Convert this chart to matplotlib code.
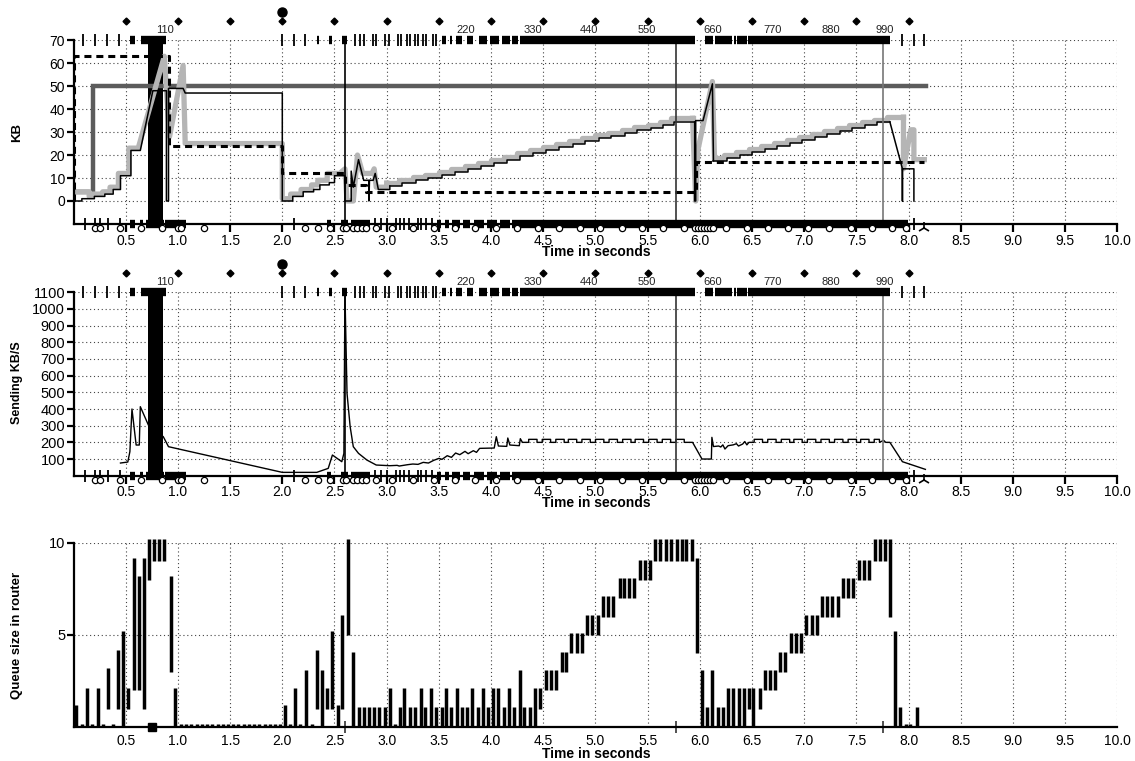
import matplotlib.pyplot as plt
from matplotlib import transforms

plt.rcParams['font.family'] = ['Liberation Sans', 'DejaVu Sans']

# ---------------- data ----------------
time_ticks = [0.5, 1.0, 1.5, 2.0, 2.5, 3.0, 3.5, 4.0, 4.5, 5.0,
              5.5, 6.0, 6.5, 7.0, 7.5, 8.0, 8.5, 9.0, 9.5, 10.0]

# receiver window (dark grey) and ssthresh (dashed), KB
rwin_t = [0.0, 0.19, 0.19, 8.17]
rwin_kb = [4, 4, 50, 50]
ssthresh_t = [0.0, 0.0, 0.91, 0.91, 2.0, 2.0, 2.6, 2.6, 2.8, 2.8, 5.96, 5.96, 8.15]
ssthresh_kb = [0, 63, 63, 24, 24, 12, 12, 7, 7, 4, 4, 17, 17]

# congestion window (light grey), pieces: free path / staircase
cwnd_a = [(0.0, 4), (0.15, 4), (0.15, 2), (0.18, 2), (0.18, 3), (0.28, 3), (0.28, 4),
          (0.35, 4), (0.35, 6), (0.43, 6), (0.43, 12), (0.53, 12), (0.53, 23), (0.62, 23),
          (0.87, 63), (0.92, 28), (1.05, 59), (1.07, 25), (2.0, 25), (2.0, 1), (2.08, 1),
          (2.08, 3), (2.18, 3), (2.18, 5), (2.28, 5), (2.28, 7), (2.34, 7), (2.34, 9),
          (2.43, 9), (2.43, 12), (2.55, 12), (2.6, 14), (2.62, 0), (2.68, 0), (2.72, 20),
          (2.77, 12), (2.86, 12), (2.88, 14), (2.9, 6), (3.0, 6), (3.0, 7.8)]
cwnd_b_t = [3.0, 3.12, 3.25, 3.37, 3.50, 3.62, 3.75, 3.87, 4.00, 4.12, 4.25, 4.37,
            4.50, 4.62, 4.75, 4.87, 5.00, 5.12, 5.25, 5.37, 5.50, 5.62, 5.72, 5.93]
cwnd_b_kb = [7.8, 9.1, 10.3, 11.5, 12.8, 14.1, 15.3, 16.6, 17.9, 19.3, 20.7, 22.1,
             23.5, 24.8, 26.1, 27.4, 28.7, 29.8, 30.9, 32.0, 33.1, 34.4, 36.0, 36.0]
cwnd_c = [(5.93, 36.0), (5.96, 0), (5.98, 22), (6.12, 52), (6.14, 18.5)]
cwnd_d_t = [6.14, 6.23, 6.35, 6.47, 6.59, 6.71, 6.83, 6.95, 7.07, 7.19, 7.31, 7.43,
            7.55, 7.67, 7.79, 7.95]
cwnd_d_kb = [18.5, 19.9, 21.2, 22.5, 23.8, 25.1, 26.4, 27.7, 29.0, 30.3, 31.6, 32.9,
             34.2, 35.2, 36.5, 36.5]
cwnd_e = [(7.95, 36.5), (7.95, 14), (8.02, 31), (8.05, 31), (8.05, 18), (8.15, 18)]

# outstanding data (thin black)
owin_a = [(0.0, 0), (0.08, 0), (0.08, 1), (0.2, 1), (0.2, 2), (0.3, 2), (0.3, 3), (0.38, 3),
          (0.38, 5), (0.45, 5), (0.45, 11), (0.55, 11), (0.55, 22), (0.64, 22), (0.76, 48),
          (0.89, 48), (0.89, 0), (0.91, 0), (0.91, 49), (1.05, 49), (1.07, 47), (2.0, 47),
          (2.0, 0), (2.1, 0), (2.1, 2), (2.2, 2), (2.2, 4), (2.3, 4), (2.3, 5), (2.36, 5),
          (2.36, 7), (2.45, 7), (2.45, 8), (2.5, 8), (2.5, 11), (2.6, 11), (2.6, 0),
          (2.66, 0), (2.66, 13), (2.68, 6), (2.73, 18), (2.78, 9), (2.83, 9), (2.83, 0),
          (2.835, 9), (2.87, 9), (2.89, 12), (2.92, 5), (3.03, 5), (3.03, 6.5)]
owin_b_t = [3.03, 3.15, 3.28, 3.40, 3.53, 3.65, 3.78, 3.90, 4.03, 4.15, 4.28, 4.40,
            4.53, 4.65, 4.78, 4.90, 5.03, 5.15, 5.28, 5.40, 5.53, 5.65, 5.75, 5.95]
owin_b_kb = [6.5, 7.8, 9.0, 10.2, 11.5, 12.8, 14.0, 15.3, 16.6, 18.0, 19.4, 20.8,
             22.2, 23.5, 24.8, 26.1, 27.4, 28.5, 29.6, 30.7, 31.8, 33.1, 34.5, 34.5]
owin_c = [(5.95, 34.5), (5.95, 0), (5.96, 0), (5.96, 35), (6.03, 35), (6.12, 51), (6.13, 17.5)]
owin_d_t = [6.13, 6.26, 6.38, 6.50, 6.62, 6.74, 6.86, 6.98, 7.10, 7.22, 7.34, 7.46,
            7.58, 7.70, 7.82]
owin_d_kb = [17.5, 18.8, 20.1, 21.4, 22.7, 24.0, 25.3, 26.6, 27.9, 29.2, 30.5, 31.8,
             33.1, 34.4, 34.4]
owin_e = [(7.82, 34.4), (7.94, 14), (7.94, 0), (7.94, 14), (8.05, 14), (8.05, 0)]

# timeout / event lines
event_t = [2.6, 5.77, 7.75]
event_color = ['#000000', '#333333', '#777777']

# sending rate, KB/s
rate_head = [(0.45, 76), (0.52, 82), (0.54, 144), (0.56, 400), (0.60, 184), (0.63, 184),
             (0.64, 414), (0.72, 300), (0.86, 234), (0.91, 174), (2.0, 20), (2.33, 20),
             (2.44, 44), (2.48, 124), (2.57, 84), (2.59, 134), (2.60, 1100), (2.62, 494),
             (2.65, 294), (2.68, 174), (2.73, 134), (2.81, 94), (2.90, 64), (3.03, 60),
             (3.10, 62), (3.12, 58), (3.20, 66), (3.25, 70), (3.30, 68), (3.35, 80),
             (3.40, 76), (3.45, 92), (3.50, 104), (3.53, 98), (3.58, 120), (3.62, 110),
             (3.66, 136), (3.70, 126), (3.75, 146), (3.78, 132), (3.83, 150), (3.86, 140),
             (3.89, 164), (4.03, 166), (4.05, 234), (4.07, 178), (4.15, 176), (4.16, 226),
             (4.18, 184), (4.27, 180), (4.28, 222), (4.30, 200)]
rate_plateau1_up = [4.36, 4.49, 4.62, 4.74, 4.87, 5.00, 5.13, 5.26, 5.38, 5.51, 5.64, 5.77]
rate_plateau1_dn = [4.44, 4.57, 4.70, 4.82, 4.95, 5.08, 5.21, 5.34, 5.46, 5.59, 5.72, 5.85]
rate_mid = [(5.93, 200), (6.02, 100), (6.11, 100), (6.115, 230), (6.13, 175), (6.18, 178),
            (6.20, 172), (6.22, 185), (6.24, 160), (6.27, 180), (6.32, 185), (6.35, 192),
            (6.37, 178), (6.41, 190), (6.43, 205), (6.45, 185), (6.47, 200)]
rate_plateau2_up = [6.52, 6.65, 6.78, 6.90, 7.03, 7.16, 7.29, 7.42, 7.54, 7.67]
rate_plateau2_dn = [6.60, 6.73, 6.86, 6.98, 7.11, 7.24, 7.37, 7.50, 7.62, 7.72]
rate_tail = [(7.76, 212), (7.78, 200), (7.82, 200), (7.94, 84), (8.16, 38)]
rate_base, rate_high = 200, 218

# packet rows (sends on top, acks at the bottom)
send_ticks = [0.09, 0.21, 0.32, 0.44, 2.00, 2.11, 2.22, 2.70, 2.74, 2.78, 2.87, 2.90,
              2.98, 3.02, 3.11, 3.14, 3.19, 3.22, 3.27, 3.30, 3.35, 3.38, 3.44, 3.47,
              7.94, 8.05, 8.15]
send_blocks = [(0.54, 0.59), (0.65, 0.89), (2.33, 2.35), (2.45, 2.48), (2.57, 2.62),
               (3.53, 3.57), (3.61, 3.63), (3.66, 3.72), (3.77, 3.83), (3.88, 3.96),
               (3.99, 4.08), (4.10, 4.18), (4.20, 4.26), (4.28, 5.95), (6.05, 6.13),
               (6.14, 6.31), (6.33, 6.35), (6.36, 6.45), (6.46, 7.82)]
ack_ticks = [0.11, 0.21, 0.25, 0.33, 0.45, 2.11, 2.89, 2.95, 3.00, 3.09, 3.13, 3.17,
             3.21, 3.30, 3.33, 3.38, 3.43, 8.05]
ack_blocks = [(0.54, 0.59), (0.64, 0.67), (0.69, 0.87), (0.88, 1.08), (2.43, 2.47),
              (2.56, 2.63), (2.66, 2.84), (3.48, 3.52), (3.56, 3.60), (3.63, 3.70),
              (3.73, 3.80), (3.84, 3.93), (3.96, 4.06), (4.09, 4.18), (4.20, 7.99)]
ack_circles = [0.21, 0.25, 0.45, 0.65, 0.85, 1.00, 1.03, 1.25, 2.22, 2.34, 2.46, 2.58,
               2.61, 2.68, 2.72, 2.76, 2.80, 2.90, 3.05, 3.25, 3.45, 3.65, 3.85, 4.05,
               4.25, 4.45, 4.65, 4.85, 5.04, 5.25, 5.45, 5.65, 5.85, 5.95, 5.98, 6.01,
               6.04, 6.07, 6.10, 6.13, 6.25, 6.45, 6.65, 6.84, 7.04, 7.24, 7.45, 7.65,
               7.84, 7.97]
fin_t = 8.15
burst = (0.71, 0.86)

seq_t = [0.88, 3.76, 4.40, 4.94, 5.49, 6.12, 6.70, 7.25, 7.77]
seq_labels = ['110', '220', '330', '440', '550', '660', '770', '880', '990']
diamond_t = [0.5, 1.0, 1.5, 2.0, 2.5, 3.0, 3.5, 4.0, 4.5, 5.0, 5.5, 6.0, 6.5, 7.0, 7.5, 8.0]
bullet_t = 2.0

# router queue: (time, low, high)
queue_bars = [(0.02, 0, 1.2), (0.08, 0, 0.15), (0.13, 0, 2.1), (0.18, 0, 0.15),
              (0.23, 0, 2.1), (0.28, 0, 0.15), (0.33, 1, 3.2), (0.38, 0, 0.15),
              (0.43, 1, 4.2), (0.47, 0, 5.2), (0.52, 1, 2.1), (0.58, 2, 9.2),
              (0.63, 2, 8.2), (0.68, 1, 9.2), (0.72, 8, 10.2), (0.77, 9, 10.2),
              (0.82, 9, 10.2), (0.87, 9, 10.2), (0.93, 3, 8.2), (0.97, 0, 2.1),
              (2.03, 0, 1.2), (2.07, 0, 0.15), (2.12, 0, 2.1), (2.17, 0, 0.15),
              (2.23, 0, 3.1), (2.28, 0, 0.15), (2.33, 1, 4.2), (2.38, 0, 3.1),
              (2.43, 1, 2.1), (2.48, 1, 5.2), (2.53, 0, 1.2), (2.57, 1, 6.1),
              (2.63, 5, 10.2), (2.68, 0, 4.1), (2.73, 0, 1.1), (2.78, 0, 1.1),
              (2.83, 0, 1.1), (2.88, 0, 1.1), (2.93, 0, 1.1), (2.98, 0, 1.1),
              (3.03, 0, 2.1), (3.08, 0, 0.15), (3.13, 0, 1.1), (3.17, 0, 2.1),
              (3.22, 0, 1.1), (3.27, 0, 1.1), (3.33, 0, 2.1), (3.37, 0, 1.1),
              (3.42, 0, 2.1), (3.47, 0, 1.1), (3.53, 0, 1.1), (3.57, 0, 2.1),
              (3.62, 0, 1.1), (3.67, 0, 2.1), (3.72, 0, 1.1), (3.77, 0, 1.1),
              (3.82, 0, 2.1), (3.87, 0, 1.1), (3.92, 0, 2.1), (3.97, 0, 1.1),
              (4.02, 0, 2.1), (4.07, 0, 2.1), (4.12, 0, 1.1), (4.17, 0, 2.1),
              (4.22, 0, 1.1), (4.28, 0, 3.1), (4.32, 0, 1.1), (4.37, 0, 1.1),
              (4.42, 0, 2.1), (4.47, 1, 2.1), (4.53, 2, 3.1), (4.57, 2, 3.1),
              (4.62, 2, 3.1), (4.68, 3, 4.1), (4.72, 3, 4.1), (4.77, 4, 5.1),
              (4.82, 4, 5.1), (4.87, 4, 5.1), (4.92, 5, 6.1), (4.97, 5, 6.1),
              (5.02, 5, 6.1), (5.07, 6, 7.1), (5.12, 6, 7.1), (5.17, 6, 7.1),
              (5.23, 7, 8.1), (5.27, 7, 8.1), (5.32, 7, 8.1), (5.37, 7, 8.1),
              (5.43, 8, 9.1), (5.47, 8, 9.1), (5.52, 8, 9.1), (5.57, 9, 10.2),
              (5.62, 9, 10.2), (5.68, 9, 10.2), (5.72, 9, 10.2), (5.78, 9, 10.2),
              (5.83, 9, 10.2), (5.87, 9, 10.2), (5.92, 9, 10.2), (5.97, 4, 9.2),
              (6.02, 0, 3.1), (6.07, 0, 1.1), (6.12, 0, 3.1), (6.17, 0, 1.1),
              (6.22, 0, 1.1), (6.27, 0, 2.1), (6.32, 0, 2.1), (6.37, 0, 2.1),
              (6.42, 0, 2.1), (6.47, 1, 2.1), (6.51, 0, 2.1), (6.58, 1, 2.1),
              (6.62, 2, 3.1), (6.67, 2, 3.1), (6.72, 2, 3.1), (6.77, 3, 4.1),
              (6.82, 3, 4.1), (6.87, 4, 5.1), (6.92, 4, 5.1), (6.97, 4, 5.1),
              (7.02, 5, 6.1), (7.07, 5, 6.1), (7.12, 5, 6.1), (7.17, 6, 7.1),
              (7.22, 6, 7.1), (7.27, 6, 7.1), (7.32, 6, 7.1), (7.37, 7, 8.1),
              (7.42, 7, 8.1), (7.47, 7, 8.1), (7.52, 8, 9.1), (7.57, 8, 9.1),
              (7.62, 8, 9.1), (7.68, 9, 10.2), (7.73, 9, 10.2), (7.77, 9, 10.2),
              (7.82, 6, 10.2), (7.87, 0, 5.2), (7.92, 0, 1.1), (7.97, 0, 0.15),
              (8.01, 0, 0.15), (8.08, 0, 1.1)]
queue_idle_t = [1.03, 1.08, 1.13, 1.18, 1.23, 1.28, 1.33, 1.38, 1.43, 1.48,
                1.53, 1.58, 1.63, 1.68, 1.73, 1.78, 1.83, 1.88, 1.93, 1.98]
queue_drop_t = 0.75


# ---------------- drawing ----------------
def style_axes(ax, ylim, yticks, ysize, xtick_len=6):
    ax.set_xlim(0, 10)
    ax.set_ylim(*ylim)
    ax.set_xticks(time_ticks)
    ax.set_xticklabels(['%.1f' % t for t in time_ticks])
    ax.set_yticks(yticks)
    ax.set_axisbelow(True)
    ax.grid(True, linestyle=(0, (1, 2.5)), linewidth=0.8, color='#444444')
    ax.spines[['top', 'right']].set_visible(False)
    ax.spines['left'].set_linewidth(1.6)
    ax.spines['bottom'].set_linewidth(1.6)
    ax.tick_params(axis='y', direction='out', length=5, width=1.6, labelsize=ysize, pad=1)
    ax.tick_params(axis='x', direction='out', length=xtick_len, width=1.6, labelsize=10, pad=1)


def packet_rows(ax, fig, y_top, y_bot):
    kw = dict(color='k', clip_on=False)
    ax.plot(send_ticks, [y_top] * len(send_ticks), ls='none', marker='|', ms=8, mew=1.3, **kw)
    lc = ax.hlines([y_top] * len(send_blocks), [b[0] for b in send_blocks],
                   [b[1] for b in send_blocks], linewidth=6, **kw)
    lc.set_capstyle('butt')
    ax.plot(ack_ticks, [y_bot] * len(ack_ticks), ls='none', marker='|', ms=8, mew=1.3, **kw)
    lc = ax.hlines([y_bot] * len(ack_blocks), [b[0] for b in ack_blocks],
                   [b[1] for b in ack_blocks], linewidth=6, **kw)
    lc.set_capstyle('butt')
    below = transforms.offset_copy(ax.transData, fig=fig, y=-4, units='dots')
    ax.plot(ack_circles, [y_bot] * len(ack_circles), ls='none', marker='o', ms=4.5,
            mfc='white', mec='k', mew=0.9, transform=below, clip_on=False)
    ax.plot([fin_t], [y_bot], ls='none', marker='2', ms=9, mew=1.2, transform=below, **kw)
    span = ax.axvspan(burst[0], burst[1], ymin=-0.02, ymax=1.02, color='k', lw=0)
    span.set_clip_on(False)
    xt = ax.get_xaxis_transform()
    ax.plot(diamond_t, [1.105] * len(diamond_t), ls='none', marker='D', ms=3.5,
            transform=xt, **kw)
    ax.plot([bullet_t], [1.155], ls='none', marker='o', ms=6.5, transform=xt, **kw)
    for t, s in zip(seq_t, seq_labels):
        ax.text(t, 1.055, s, transform=xt, ha='center', va='center', fontsize=8,
                color='#222222')


def path(points):
    return [p[0] for p in points], [p[1] for p in points]


fig = plt.figure(figsize=(11.35, 7.61), dpi=100)
ax1 = fig.add_axes([0.06476, 0.7057, 0.9198, 0.2415])
ax2 = fig.add_axes([0.06476, 0.3749, 0.9198, 0.2410])
ax3 = fig.add_axes([0.06476, 0.04468, 0.9198, 0.2418])

# --- top: windows ---
style_axes(ax1, (-10, 70), [0, 10, 20, 30, 40, 50, 60, 70], 10)
ax1.plot(rwin_t, rwin_kb, color='#5c5c5c', lw=3.2, solid_joinstyle='miter')
gray = dict(color='#b5b5b5', lw=3.8)
ax1.plot(*path(cwnd_a), **gray)
ax1.plot(cwnd_b_t, cwnd_b_kb, drawstyle='steps-post', **gray)
ax1.plot(*path(cwnd_c), **gray)
ax1.plot(cwnd_d_t, cwnd_d_kb, drawstyle='steps-post', **gray)
ax1.plot(*path(cwnd_e), **gray)
ax1.plot(ssthresh_t, ssthresh_kb, color='k', lw=2.2, linestyle=(0, (2.3, 1.6)))
blk = dict(color='k', lw=1.1)
ax1.plot(*path(owin_a), **blk)
ax1.plot(owin_b_t, owin_b_kb, drawstyle='steps-post', **blk)
ax1.plot(*path(owin_c), **blk)
ax1.plot(owin_d_t, owin_d_kb, drawstyle='steps-post', **blk)
ax1.plot(*path(owin_e), **blk)
for t, c in zip(event_t, event_color):
    ax1.axvline(t, color=c, lw=1.2)
packet_rows(ax1, fig, 70, -10)

# --- middle: sending rate ---
style_axes(ax2, (0, 1100), [100, 200, 300, 400, 500, 600, 700, 800, 900, 1000, 1100], 10.5)
rate_pts = list(rate_head)
for u, d in zip(rate_plateau1_up, rate_plateau1_dn):
    rate_pts += [(u, rate_base), (u, rate_high), (d, rate_high), (d, rate_base)]
rate_pts += rate_mid
for u, d in zip(rate_plateau2_up, rate_plateau2_dn):
    rate_pts += [(u, rate_base), (u, rate_high), (d, rate_high), (d, rate_base)]
rate_pts += rate_tail
ax2.plot(*path(rate_pts), color='k', lw=1.0)
for t, c in zip(event_t, event_color):
    ax2.axvline(t, color=c, lw=1.2)
packet_rows(ax2, fig, 1100, 0)

# --- bottom: router queue ---
style_axes(ax3, (0, 10), [5, 10], 10.5, xtick_len=0)
ax3.tick_params(axis='x', pad=5)
ax3.vlines([q[0] for q in queue_bars], [q[1] for q in queue_bars],
           [q[2] for q in queue_bars], color='k', lw=2.5, clip_on=False)
ax3.vlines(queue_idle_t, 0, 0.15, color='k', lw=2.5, clip_on=False)
ax3.plot([queue_drop_t], [0], ls='none', marker='s', ms=6, color='k', clip_on=False)
ax3.plot(event_t, [0] * len(event_t), ls='none', marker='|', ms=8, mew=1.2, color='#333333',
         clip_on=False)

# axis titles
for yc in (252, 503, 754):
    fig.text(596 / 1135, 1 - yc / 761, 'Time in seconds', ha='center', va='center',
             fontsize=10, fontweight='bold')
fig.text(17 / 1135, 1 - 132 / 761, 'KB', rotation=90, ha='center', va='center',
         fontsize=9.5, fontweight='bold')
fig.text(17 / 1135, 1 - 383 / 761, 'Sending KB/S', rotation=90, ha='center', va='center',
         fontsize=9, fontweight='bold')
fig.text(17 / 1135, 1 - 635 / 761, 'Queue size in router', rotation=90, ha='center',
         va='center', fontsize=9.5, fontweight='bold')

fig.savefig('out.png', dpi=100)
